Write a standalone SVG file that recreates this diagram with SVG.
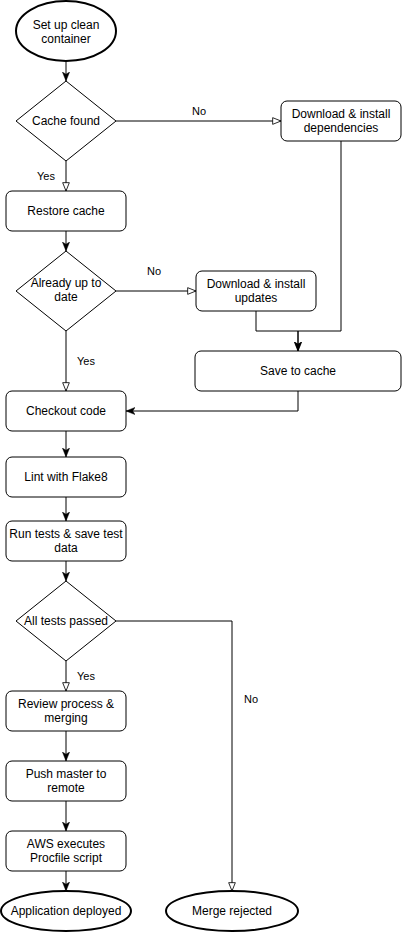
<svg xmlns="http://www.w3.org/2000/svg" width="402" height="932" viewBox="0 0 402 932">
<style>
  .shape { fill: #ffffff; stroke: #000000; stroke-width: 1; }
  .term { fill: #ffffff; stroke: #000000; stroke-width: 2; }
  .t { font-family: "Liberation Sans", Arial, sans-serif; font-size: 12px; fill: #000000; text-anchor: middle; }
  .lbl { font-family: "Liberation Sans", Arial, sans-serif; font-size: 11px; fill: #000000; text-anchor: middle; }
  .edge { fill: none; stroke: #000000; stroke-width: 1; }
  .f { marker-end: url(#filled); }
  .o { marker-end: url(#open); }
</style>
<defs>
  <marker id="filled" viewBox="0 0 10 10" refX="10" refY="5" markerWidth="9" markerHeight="9" orient="auto" markerUnits="userSpaceOnUse">
    <path d="M0,1 L10,5 L0,9 L2.5,5 Z" fill="#000000" stroke="#000000" stroke-width="0.5"/>
  </marker>
  <marker id="open" viewBox="-1 -1 12 12" refX="10" refY="5" markerWidth="10" markerHeight="10" orient="auto" markerUnits="userSpaceOnUse">
    <path d="M0,1 L10,5 L0,9 Z" fill="#ffffff" stroke="#000000" stroke-width="1"/>
  </marker>
</defs>

<g id="connectors">
  <path class="edge f" d="M66,61 L66,81"/>
  <path class="edge o" d="M116,121 L281,121"/>
  <path class="edge o" d="M66,161 L66,191"/>
  <path class="edge f" d="M66,231 L66,251"/>
  <path class="edge o" d="M116,291 L196,291"/>
  <path class="edge o" d="M66,331 L66,391"/>
  <path class="edge f" d="M341,141 L341,331 L298,331 L298,351"/>
  <path class="edge f" d="M256,311 L256,331 L298,331 L298,351"/>
  <path class="edge f" d="M298,391 L298,411 L126,411"/>
  <path class="edge f" d="M66,431 L66,457"/>
  <path class="edge f" d="M66,497 L66,521"/>
  <path class="edge f" d="M66,561 L66,581"/>
  <path class="edge o" d="M66,661 L66,691"/>
  <path class="edge o" d="M116,621 L232,621 L232,891"/>
  <path class="edge f" d="M66,731 L66,761"/>
  <path class="edge f" d="M66,801 L66,831"/>
  <path class="edge f" d="M66,871 L66,891"/>
  <text class="lbl" x="199" y="115">No</text>
  <text class="lbl" x="46" y="180">Yes</text>
  <text class="lbl" x="154" y="275">No</text>
  <text class="lbl" x="86" y="365">Yes</text>
  <text class="lbl" x="86" y="680">Yes</text>
  <text class="lbl" x="251" y="703">No</text>
</g>

<g id="start">
  <ellipse class="term" cx="66" cy="31" rx="50" ry="30"/>
  <text class="t" x="66" y="29">Set up clean</text>
  <text class="t" x="66" y="43">container</text>
</g>
<g id="cache-found">
  <polygon class="shape" points="66,81 116,121 66,161 16,121"/>
  <text class="t" x="66" y="125">Cache found</text>
</g>
<g id="download-deps">
  <rect class="shape" x="281" y="101" width="120" height="40" rx="6"/>
  <text class="t" x="341" y="118">Download &amp; install</text>
  <text class="t" x="341" y="132">dependencies</text>
</g>
<g id="restore-cache">
  <rect class="shape" x="6" y="191" width="120" height="40" rx="6"/>
  <text class="t" x="66" y="215">Restore cache</text>
</g>
<g id="up-to-date">
  <polygon class="shape" points="66,251 116,291 66,331 16,291"/>
  <text class="t" x="66" y="287">Already up to</text>
  <text class="t" x="66" y="301">date</text>
</g>
<g id="download-updates">
  <rect class="shape" x="196" y="271" width="120" height="40" rx="6"/>
  <text class="t" x="256" y="288">Download &amp; install</text>
  <text class="t" x="256" y="302">updates</text>
</g>
<g id="save-cache">
  <rect class="shape" x="195" y="351" width="206" height="40" rx="6"/>
  <text class="t" x="298" y="375">Save to cache</text>
</g>
<g id="checkout">
  <rect class="shape" x="6" y="391" width="120" height="40" rx="6"/>
  <text class="t" x="66" y="415">Checkout code</text>
</g>
<g id="lint">
  <rect class="shape" x="6" y="457" width="120" height="40" rx="6"/>
  <text class="t" x="66" y="481">Lint with Flake8</text>
</g>
<g id="run-tests">
  <rect class="shape" x="6" y="521" width="120" height="40" rx="6"/>
  <text class="t" x="66" y="538">Run tests &amp; save test</text>
  <text class="t" x="66" y="552">data</text>
</g>
<g id="tests-passed">
  <polygon class="shape" points="66,581 116,621 66,661 16,621"/>
  <text class="t" x="66" y="625">All tests passed</text>
</g>
<g id="review">
  <rect class="shape" x="6" y="691" width="120" height="40" rx="6"/>
  <text class="t" x="66" y="708">Review process &amp;</text>
  <text class="t" x="66" y="722">merging</text>
</g>
<g id="push">
  <rect class="shape" x="6" y="761" width="120" height="40" rx="6"/>
  <text class="t" x="66" y="778">Push master to</text>
  <text class="t" x="66" y="792">remote</text>
</g>
<g id="aws">
  <rect class="shape" x="6" y="831" width="120" height="40" rx="6"/>
  <text class="t" x="66" y="848">AWS executes</text>
  <text class="t" x="66" y="862">Procfile script</text>
</g>
<g id="deployed">
  <ellipse class="term" cx="66" cy="911" rx="65" ry="20"/>
  <text class="t" x="66" y="915">Application deployed</text>
</g>
<g id="rejected">
  <ellipse class="term" cx="232" cy="911" rx="66" ry="20"/>
  <text class="t" x="232" y="915">Merge rejected</text>
</g>
</svg>
